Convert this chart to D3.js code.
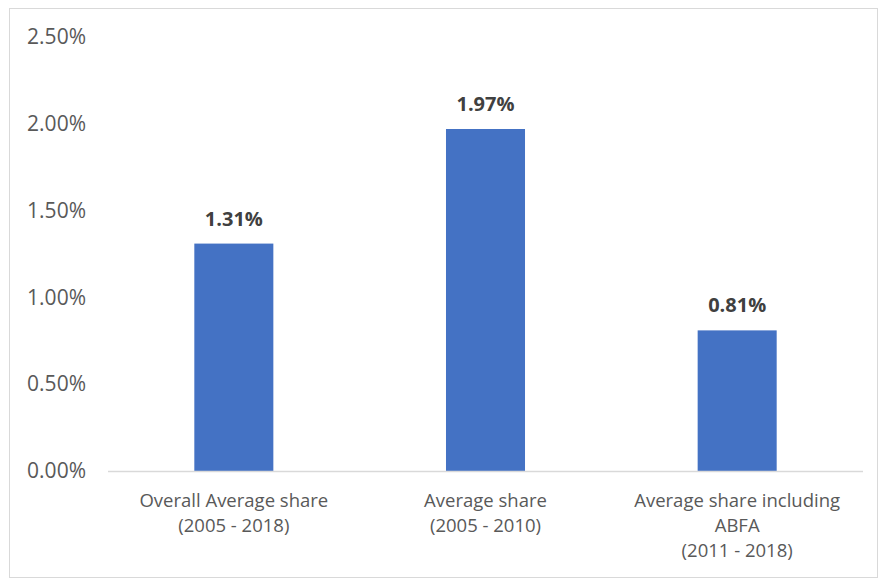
<!DOCTYPE html>
<html>
<head>
<meta charset="utf-8">
<script src="https://cdn.jsdelivr.net/npm/d3@7"></script>
<style>
  html, body { margin: 0; padding: 0; background: #fff; }
  svg { display: block; font-family: "Open Sans", "Noto Sans", sans-serif; }
</style>
</head>
<body>
<svg id="chart" width="880" height="581"></svg>
<script>
// Average share by period (percent)
const categories = [
  ["Overall Average share", "(2005 - 2018)"],
  ["Average share", "(2005 - 2010)"],
  ["Average share including", "ABFA", "(2011 - 2018)"]
];
const values = [1.31, 1.97, 0.81];
const yTicks = [0, 0.5, 1.0, 1.5, 2.0, 2.5];

const svg = d3.select("#chart");

// outer frame
svg.append("rect")
  .attr("x", 9.5).attr("y", 8.5)
  .attr("width", 868).attr("height", 569)
  .attr("fill", "#fff")
  .attr("stroke", "#d9d9d9").attr("stroke-width", 1);

const x = d3.scaleBand()
  .domain(d3.range(categories.length))
  .range([108, 863])
  .padding(0);

const y = d3.scaleLinear().domain([0, 2.5]).range([471, 37]);

const barW = x.bandwidth() * 0.314;

// y axis labels (no axis line, no gridlines)
const yAxis = d3.axisLeft(y)
  .tickValues(yTicks)
  .tickFormat(d => d3.format(".2f")(d) + "%")
  .tickSize(0)
  .tickPadding(0);

const yg = svg.append("g")
  .attr("transform", "translate(86,0)")
  .call(yAxis);
yg.select(".domain").remove();
yg.selectAll("text")
  .attr("fill", "#595959")
  .style("font-size", "21px")
  .style("font-family", "'Open Sans', sans-serif");

// bars
svg.append("g").selectAll("rect")
  .data(values)
  .join("rect")
  .attr("x", (d, i) => x(i) + (x.bandwidth() - barW) / 2)
  .attr("y", d => y(d))
  .attr("width", barW)
  .attr("height", d => y(0) - y(d))
  .attr("fill", "#4472C4");

// baseline
svg.append("line")
  .attr("x1", 108).attr("x2", 863)
  .attr("y1", y(0) + 0.5).attr("y2", y(0) + 0.5)
  .attr("stroke", "#d9d9d9").attr("stroke-width", 1.3);

// value labels
svg.append("g").selectAll("text")
  .data(values)
  .join("text")
  .attr("x", (d, i) => x(i) + x.bandwidth() / 2)
  .attr("y", d => y(d) - 18)
  .attr("text-anchor", "middle")
  .attr("fill", "#404040")
  .style("font-size", "20px")
  .style("font-weight", "bold")
  .text(d => d3.format(".2f")(d) + "%");

// category labels
const cg = svg.append("g").selectAll("text")
  .data(categories)
  .join("text")
  .attr("x", (d, i) => x(i) + x.bandwidth() / 2)
  .attr("y", 507)
  .attr("text-anchor", "middle")
  .attr("fill", "#595959")
  .style("font-size", "18.5px");
cg.selectAll("tspan")
  .data(d => d)
  .join("tspan")
  .attr("x", function() { return this.parentNode.getAttribute("x"); })
  .attr("dy", (d, i) => i === 0 ? 0 : 25)
  .text(d => d);
</script>
</body>
</html>
